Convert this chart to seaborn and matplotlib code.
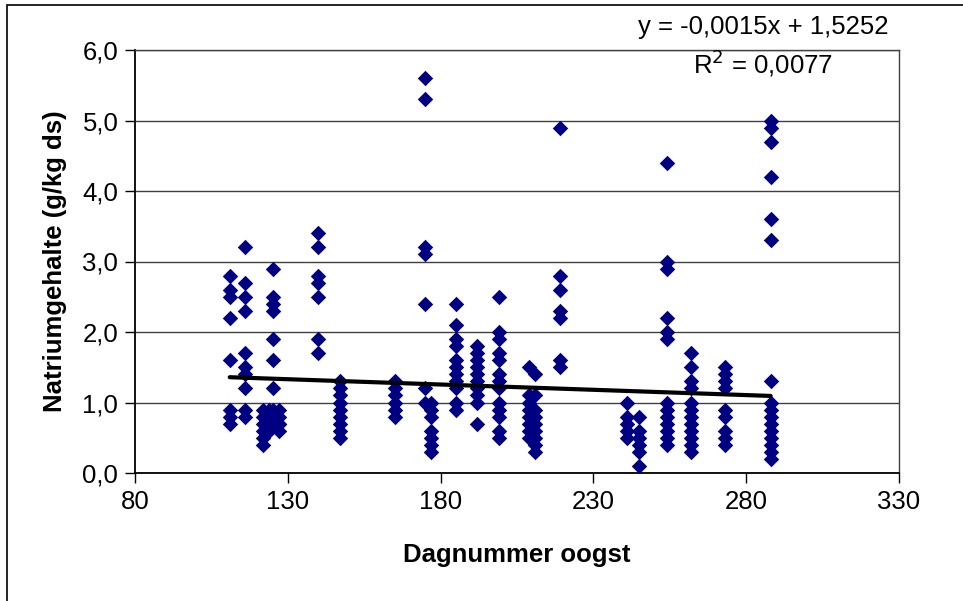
import matplotlib
matplotlib.use("Agg")

import numpy as np
import pandas as pd
import matplotlib.pyplot as plt
import seaborn as sns
from matplotlib.ticker import FuncFormatter

# ----------------------------------------------------------
# Natriumgehalte per oogstdag
# ----------------------------------------------------------
dag_111 = [2.8, 2.6, 2.5, 2.2, 1.6, 0.9, 0.8, 0.7]
dag_116 = [3.2, 2.7, 2.5, 2.3, 1.7, 1.5, 1.4, 1.2, 0.9, 0.8]
dag_122 = [0.9, 0.8, 0.7, 0.6, 0.5, 0.4]
dag_124 = [0.9, 0.8, 0.7, 0.6]
dag_125 = [2.9, 2.5, 2.4, 2.3, 1.9, 1.6, 1.2, 0.9, 0.8, 0.7]
dag_127 = [0.9, 0.8, 0.7, 0.6, 0.7]
dag_140 = [3.4, 3.2, 2.8, 2.7, 2.5, 1.9, 1.7]
dag_147 = [1.3, 1.2, 1.1, 1.0, 0.9, 0.8, 0.7, 0.6, 0.5]
dag_165 = [1.3, 1.2, 1.1, 1.0, 0.9, 0.8]
dag_175 = [5.6, 5.3, 3.2, 3.1, 2.4, 1.2, 1.0]
dag_177 = [1.0, 0.9, 0.8, 0.6, 0.5, 0.4, 0.3]
dag_185 = [2.4, 2.1, 1.9, 1.8, 1.6, 1.5, 1.4, 1.3, 1.2, 1.0, 0.9]
dag_192 = [1.8, 1.7, 1.6, 1.5, 1.4, 1.3, 1.2, 1.1, 1.0, 0.7]
dag_199 = [2.5, 2.0, 1.9, 1.7, 1.6, 1.4, 1.3, 1.2, 1.0, 0.9, 0.8, 0.6, 0.5]
dag_209 = [1.5, 1.1, 1.0, 0.9, 0.8, 0.7, 0.6, 0.5]
dag_211 = [1.4, 1.1, 0.9, 0.8, 0.7, 0.6, 0.5, 0.4, 0.3]
dag_219 = [4.9, 2.8, 2.6, 2.3, 2.2, 1.6, 1.5]
dag_241 = [1.0, 0.8, 0.7, 0.6, 0.5]
dag_245 = [0.8, 0.6, 0.5, 0.4, 0.3, 0.1]
dag_254 = [4.4, 3.0, 2.9, 2.2, 2.0, 1.9, 1.0, 0.9, 0.8, 0.7, 0.6, 0.5, 0.4]
dag_262 = [1.7, 1.5, 1.3, 1.2, 1.0, 0.9, 0.8, 0.7, 0.6, 0.5, 0.4, 0.3]
dag_273 = [1.5, 1.4, 1.3, 1.2, 0.9, 0.8, 0.6, 0.5, 0.4]
dag_288 = [5.0, 4.9, 4.7, 4.2, 3.6, 3.3, 1.3, 1.0, 0.9, 0.8, 0.7, 0.6,
           0.5, 0.4, 0.3, 0.2]

oogstdagen = [111, 116, 122, 124, 125, 127, 140, 147, 165, 175, 177, 185,
              192, 199, 209, 211, 219, 241, 245, 254, 262, 273, 288]
metingen = [dag_111, dag_116, dag_122, dag_124, dag_125, dag_127, dag_140,
            dag_147, dag_165, dag_175, dag_177, dag_185, dag_192, dag_199,
            dag_209, dag_211, dag_219, dag_241, dag_245, dag_254, dag_262,
            dag_273, dag_288]

# trend line as reported on the chart
helling = -0.0015
intercept = 1.5252
r_kwadraat = 0.0077

x_ticks = [80, 130, 180, 230, 280, 330]
y_ticks = [0, 1, 2, 3, 4, 5, 6]

rows = [(d, v) for d, vals in zip(oogstdagen, metingen) for v in vals]
df = pd.DataFrame(rows, columns=["dag", "natrium"])

x_line = np.array([df["dag"].min(), df["dag"].max()])
trend = pd.DataFrame({"dag": x_line, "natrium": helling * x_line + intercept})

sns.set_style("white")
plt.rcParams["font.family"] = ["Liberation Sans", "DejaVu Sans"]
plt.rcParams["text.color"] = "black"
plt.rcParams["axes.labelcolor"] = "black"

fig = plt.figure(figsize=(9.63, 6.01), dpi=100)
ax = fig.add_axes([135 / 963, 1 - 473 / 601, 764 / 963, 423 / 601])

ax.set_axisbelow(True)
ax.yaxis.grid(True, color="#404040", linewidth=1)
ax.xaxis.grid(False)

sns.scatterplot(data=df, x="dag", y="natrium", marker="D", s=62,
                color="#000080", edgecolor="#000080", linewidth=0, ax=ax,
                zorder=3)
sns.lineplot(data=trend, x="dag", y="natrium", color="black", linewidth=3,
             ax=ax, zorder=4)

ax.set_xlim(80, 330)
ax.set_ylim(0, 6)
ax.set_xticks(x_ticks)
ax.set_yticks(y_ticks)
ax.yaxis.set_major_formatter(FuncFormatter(lambda v, p: f"{v:.1f}".replace(".", ",")))
ax.tick_params(axis="both", direction="out", length=7, width=1, color="black",
               labelcolor="black", labelsize=18.5, left=True, bottom=True, pad=5)

for side in ["left", "bottom"]:
    ax.spines[side].set_color("black")
    ax.spines[side].set_linewidth(1.3)
for side in ["top", "right"]:
    ax.spines[side].set_color("#404040")
    ax.spines[side].set_linewidth(1)

ax.set_xlabel("Dagnummer oogst", fontsize=18.5, fontweight="bold")
ax.set_ylabel("Natriumgehalte (g/kg ds)", fontsize=18.5, fontweight="bold")
ax.xaxis.label.set_va("center")
ax.yaxis.label.set_va("center")
ax.xaxis.set_label_coords(0.5, (473 - 555) / 423)
ax.yaxis.set_label_coords((55 - 135) / 764, 0.5)

eq_text = f"y = {helling:.4f}x + {intercept:.4f}".replace(".", ",")
fig.text(888 / 963, 1 - 27 / 601, eq_text, fontsize=18.5, ha="right", va="center")
fig.text(763 / 963, 1 - 63 / 601, f"R$^2$ = {r_kwadraat:.4f}".replace(".", ","),
         fontsize=18.5, ha="center", va="center")

# thin frame around the chart area (only left and top edges visible)
fig.add_artist(plt.Rectangle((7 / 963, -0.05), 1.2, 1 - 5 / 601 + 0.05,
                             fill=False, edgecolor="black", linewidth=1.2,
                             transform=fig.transFigure))

fig.savefig("out.png", dpi=100)
plt.close(fig)
